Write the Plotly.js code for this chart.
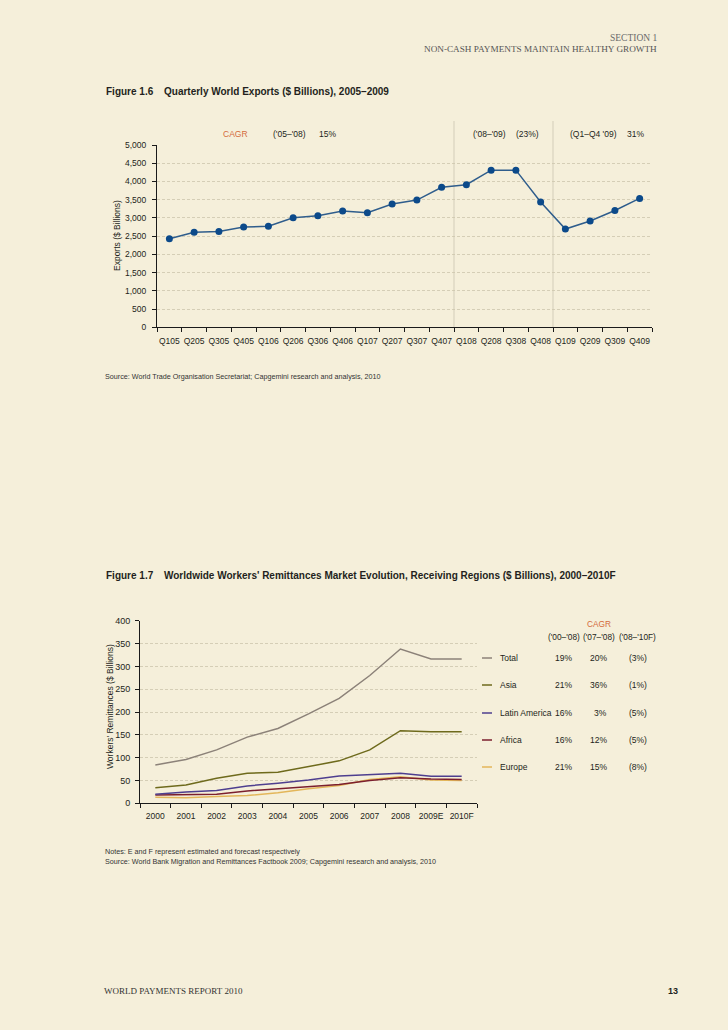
<!DOCTYPE html>
<html>
<head>
<meta charset="utf-8">
<script src="https://cdn.plot.ly/plotly-3.0.1.min.js"></script>
<style>
html,body{margin:0;padding:0;background:#f5efda;}
#chart{width:728px;height:1030px;}
</style>
</head>
<body>
<div id="chart"></div>
<script>
// ---------- Figure 1.6 data ----------
const quarters = ['Q105','Q205','Q305','Q405','Q106','Q206','Q306','Q406','Q107','Q207','Q307','Q407','Q108','Q208','Q308','Q408','Q109','Q209','Q309','Q409'];
const exportsVal = [2430,2605,2625,2750,2770,3005,3060,3190,3140,3380,3490,3840,3910,4310,4310,3435,2695,2915,3205,3535];
const cagrPeriods = ["('05–'08)", "('08–'09)", "(Q1–Q4 '09)"];
const cagrValues = ['15%', '(23%)', '31%'];
const dividerBefore = ['Q108','Q109'];

// ---------- Figure 1.7 data ----------
const years = ['2000','2001','2002','2003','2004','2005','2006','2007','2008','2009E','2010F'];
const total  = [84,96,117,145,164,196,230,280,338,316,316];
const asia   = [34,40,55,66,68,80,93,117,159,157,157];
const latam  = [20,25,28,38,44,51,60,63,66,59,59];
const africa = [18,19,20,27,32,36,41,50,56,53,52];
const europe = [13,12,15,17,23,32,39,52,58,51,50];
const regionNames = ['Total','Asia','Latin America','Africa','Europe'];
const regionSeries = [total, asia, latam, africa, europe];
const regionColors = ['#8c8279','#6e6a1c','#4e3f8f','#7b1f2e','#e3b65a'];
const cagrHeaders = ["('00–'08)", "('07–'08)", "('08–'10F)"];
const cagr0008 = ['19%','21%','16%','16%','21%'];
const cagr0708 = ['20%','36%','3%','12%','15%'];
const cagr0810 = ['(3%)','(1%)','(5%)','(5%)','(8%)'];

// ---------- helpers ----------
const W = 728, H = 1030;
const px = x => x / W;
const py = y => 1 - y / H;
const SANS = 'Liberation Sans, Arial, sans-serif';
const SERIF = 'Liberation Serif, Times New Roman, serif';
const TXT = '#231f20';
const ORANGE = '#d46b3c';
const GRID = '#cdc5ad';

function ann(x, y, text, opts) {
  opts = opts || {};
  return Object.assign({
    xref: 'paper', yref: 'paper', x: px(x), y: py(y), text: text, showarrow: false,
    xanchor: 'left', yanchor: 'middle',
    font: {family: SANS, size: 8, color: TXT}
  }, opts);
}

const traces = [];
traces.push({
  type: 'scatter', mode: 'lines+markers', x: quarters, y: exportsVal,
  xaxis: 'x', yaxis: 'y',
  line: {color: '#2f5d8c', width: 1.5},
  marker: {color: '#0c4a8a', size: 7},
  hoverinfo: 'skip', showlegend: false
});
// draw order: Europe first, Total last
for (let i = regionNames.length - 1; i >= 0; i--) {
  traces.push({
    type: 'scatter', mode: 'lines', x: years, y: regionSeries[i], name: regionNames[i],
    xaxis: 'x2', yaxis: 'y2',
    line: {color: regionColors[i], width: 1.5},
    hoverinfo: 'skip', showlegend: false
  });
}

const axisCommon = {
  showline: true, linecolor: '#1a1a1a', linewidth: 1,
  ticks: 'outside', ticklen: 4, tickcolor: '#1a1a1a', tickwidth: 1,
  zeroline: false, fixedrange: true
};

const shapes = [];
dividerBefore.forEach(q => {
  const xv = quarters.indexOf(q) - 0.5;
  shapes.push({type: 'line', xref: 'x', yref: 'paper', x0: xv, x1: xv,
    y0: py(327.3), y1: py(121), line: {color: '#d3cdb9', width: 1}, layer: 'below'});
});

const annotations = [];
// header
annotations.push(ann(659, 38, 'SECTION 1', {xanchor: 'right', font: {family: SERIF, size: 9.5, color: '#6a6a6a'}}));
annotations.push(ann(659, 48.5, 'NON-CASH PAYMENTS MAINTAIN HEALTHY GROWTH', {xanchor: 'right', font: {family: SERIF, size: 9.2, color: '#555'}}));
// figure titles
annotations.push(ann(104, 91, '<b>Figure 1.6</b>', {font: {family: SANS, size: 10, color: TXT}}));
annotations.push(ann(162, 91, '<b>Quarterly World Exports ($ Billions), 2005–2009</b>', {font: {family: SANS, size: 10, color: TXT}}));
annotations.push(ann(104, 575, '<b>Figure 1.7</b>', {font: {family: SANS, size: 10, color: TXT}}));
annotations.push(ann(162, 575, "<b>Worldwide Workers' Remittances Market Evolution, Receiving Regions ($ Billions), 2000–2010F</b>", {font: {family: SANS, size: 10, color: TXT}}));
// CAGR row fig 1.6
annotations.push(ann(235, 133.5, 'CAGR', {xanchor: 'center', font: {family: SANS, size: 8.5, color: ORANGE}}));
const cagrPerX = [271, 471, 568];
const cagrValX = [317, 514, 625];
cagrPeriods.forEach((t, i) => {
  annotations.push(ann(cagrPerX[i], 133.5, t, {font: {family: SANS, size: 8.5, color: TXT}}));
  annotations.push(ann(cagrValX[i], 133.5, cagrValues[i], {font: {family: SANS, size: 8.5, color: TXT}}));
});
// y titles
annotations.push(ann(117, 236, 'Exports ($ Billions)', {xanchor: 'center', textangle: -90, font: {family: SANS, size: 8.5, color: TXT}}));
annotations.push(ann(110, 707, "Workers' Remittances ($ Billions)", {xanchor: 'center', textangle: -90, font: {family: SANS, size: 8.5, color: TXT}}));
// sources
annotations.push(ann(103, 376, 'Source: World Trade Organisation Secretariat; Capgemini research and analysis, 2010', {font: {family: SANS, size: 7.2, color: '#333'}}));
annotations.push(ann(103, 851.5, 'Notes: E and F represent estimated and forecast respectively', {font: {family: SANS, size: 7.2, color: '#333'}}));
annotations.push(ann(103, 861, 'Source: World Bank Migration and Remittances Factbook 2009; Capgemini research and analysis, 2010', {font: {family: SANS, size: 7.2, color: '#333'}}));
// footer
annotations.push(ann(102, 991, 'WORLD PAYMENTS REPORT 2010', {font: {family: SERIF, size: 9, color: '#333'}}));
annotations.push(ann(680, 991, '<b>13</b>', {xanchor: 'right', font: {family: SANS, size: 9, color: TXT}}));
// legend table fig 1.7
annotations.push(ann(599, 624, 'CAGR', {xanchor: 'center', font: {family: SANS, size: 8.3, color: ORANGE}}));
const hdrX = [564, 599, 637];
cagrHeaders.forEach((t, i) => annotations.push(ann(hdrX[i], 637, t, {xanchor: 'center', font: {family: SANS, size: 8.3, color: TXT}})));
const rowY = [658, 685, 713, 740, 767];
regionNames.forEach((n, i) => {
  shapes.push({type: 'line', xref: 'paper', yref: 'paper', x0: px(482), x1: px(492), y0: py(rowY[i]), y1: py(rowY[i]),
    line: {color: regionColors[i], width: 1.5}});
  annotations.push(ann(498, rowY[i], n, {font: {family: SANS, size: 8.5, color: TXT}}));
  annotations.push(ann(574, rowY[i], cagr0008[i], {xanchor: 'right', font: {family: SANS, size: 8.5, color: TXT}}));
  annotations.push(ann(609, rowY[i], cagr0708[i], {xanchor: 'right', font: {family: SANS, size: 8.5, color: TXT}}));
  annotations.push(ann(638, rowY[i], cagr0810[i], {xanchor: 'center', font: {family: SANS, size: 8.5, color: TXT}}));
});

const layout = {
  width: W, height: H,
  margin: {l: 0, r: 0, t: 0, b: 0},
  paper_bgcolor: '#f5efda', plot_bgcolor: 'rgba(0,0,0,0)',
  showlegend: false,
  font: {family: SANS, color: TXT},
  xaxis: Object.assign({}, axisCommon, {
    domain: [px(157), px(652)], type: 'category', range: [-0.5, quarters.length - 0.5],
    tickson: 'boundaries', showgrid: false, anchor: 'y', tickangle: 0,
    tickfont: {family: SANS, size: 8.5, color: TXT}, ticklabelstandoff: 5
  }),
  yaxis: Object.assign({}, axisCommon, {
    domain: [py(327.3), py(145)], range: [0, 5000], dtick: 500, tickformat: ',d',
    showgrid: true, gridcolor: GRID, griddash: '3px,2px', gridwidth: 0.8, anchor: 'x',
    tickfont: {family: SANS, size: 8.5, color: TXT}, ticklabelstandoff: 4
  }),
  xaxis2: Object.assign({}, axisCommon, {
    domain: [px(140), px(477)], type: 'category', range: [-0.5, years.length - 0.5],
    tickson: 'boundaries', showgrid: false, anchor: 'y2', tickangle: 0,
    tickfont: {family: SANS, size: 8.5, color: TXT}, ticklabelstandoff: 4
  }),
  yaxis2: Object.assign({}, axisCommon, {
    domain: [py(803.3), py(620.7)], range: [0, 400], dtick: 50,
    showgrid: true, gridcolor: GRID, griddash: '3px,2px', gridwidth: 0.8, anchor: 'x2',
    tickfont: {family: SANS, size: 9, color: TXT}, ticklabelstandoff: 3
  }),
  shapes: shapes,
  annotations: annotations
};

Plotly.newPlot('chart', traces, layout, {staticPlot: true, displayModeBar: false});
</script>
</body>
</html>
